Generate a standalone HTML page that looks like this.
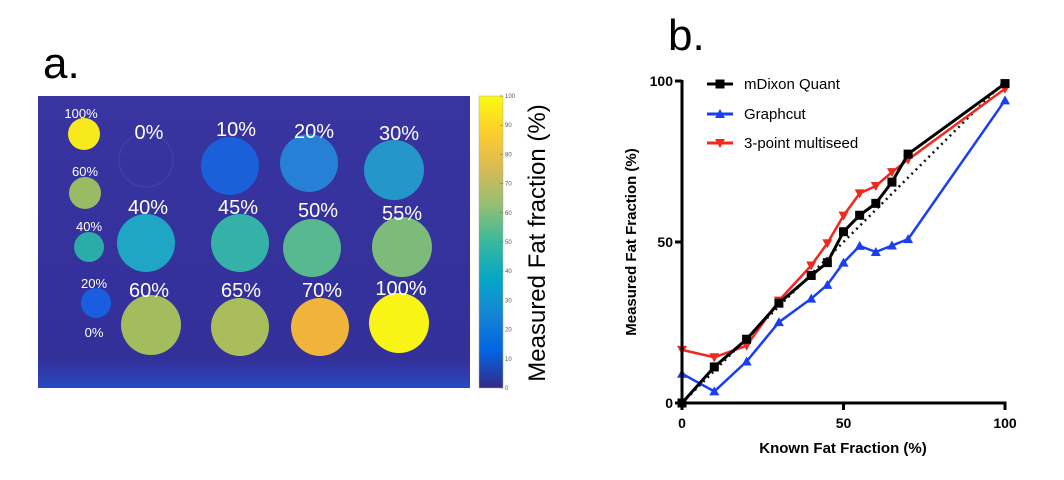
<!DOCTYPE html>
<html><head><meta charset="utf-8"><style>
html,body{margin:0;padding:0;background:#fff;}
svg{display:block;font-family:"Liberation Sans",Arial,sans-serif;}
</style></head><body>
<svg id="fig" width="1064" height="480" viewBox="0 0 1064 480">
<defs>
<linearGradient id="parula" x1="0" y1="1" x2="0" y2="0">
<stop offset="0" stop-color="#352a87"/><stop offset="0.125" stop-color="#0363e1"/><stop offset="0.25" stop-color="#1485d4"/><stop offset="0.375" stop-color="#06a7c6"/><stop offset="0.5" stop-color="#38b99e"/><stop offset="0.625" stop-color="#92bf73"/><stop offset="0.75" stop-color="#d9ba56"/><stop offset="0.875" stop-color="#fcce2e"/><stop offset="1" stop-color="#f9fb0e"/>
</linearGradient>
<linearGradient id="bgGrad" x1="0" y1="0" x2="0" y2="1">
<stop offset="0" stop-color="#3834a0"/><stop offset="0.9" stop-color="#33309a"/><stop offset="1" stop-color="#2a48c0"/>
</linearGradient>
</defs>
<text x="43" y="78" font-size="44">a.</text>
<text x="668" y="50" font-size="44">b.</text>

<g>
<rect x="38" y="96" width="432" height="292" fill="url(#bgGrad)"/>
<circle cx="146" cy="160" r="27" fill="none" stroke="#3e40a8" stroke-width="1.5"/>
<g id="circles"></g>
</g>

<g>
<rect x="479" y="96" width="24" height="292" fill="url(#parula)" stroke="#aaa" stroke-width="0.5"/>
<g id="cbticks" font-size="6" fill="#555"></g>
<text transform="translate(545,243) rotate(-90)" text-anchor="middle" font-size="24">Measured Fat fraction (%)</text>
</g>

<g id="chart"></g>
</svg>
<script>
// phantom circles
const vialLabels=["100%","60%","40%","20%","10%","20%","30%","40%","45%","50%","55%","60%","65%","70%","100%"];
const vialX=[84,85,89,96,230,309,394,146,240,312,402,151,240,320,399];
const vialY=[134,193,247,303,166,163,170,243,243,248,247,325,327,327,323];
const vialR=[16,16,15,15,29,29,30,29,29,29,30,30,29,29,30];
const vialColor=["#f6ea1c","#98bb63","#2aada8","#1a5ee0","#1a60d8","#2580d6","#2496ca","#1ea6c4","#34b2a8","#58b890","#7dbb7a","#a3bd5e","#aabd5c","#f0b43c","#f8f416"];
const lblX=[81,85,89,94,236,314,399,148,238,318,402,149,241,322,401];
const lblY=[118,176,231,288,136,138,140,214,214,217,220,297,297,297,295];
const lblSize=[13,13,13,13,20,20,20,20,20,20,20,20,20,20,20];
const NS="http://www.w3.org/2000/svg";
const cg=document.getElementById('circles');
for(let i=0;i<vialLabels.length;i++){
 const c=document.createElementNS(NS,'circle');
 c.setAttribute('cx',vialX[i]);c.setAttribute('cy',vialY[i]);c.setAttribute('r',vialR[i]);c.setAttribute('fill',vialColor[i]);
 
 
 cg.appendChild(c);
 const t=document.createElementNS(NS,'text');
 t.setAttribute('x',lblX[i]);t.setAttribute('y',lblY[i]);t.setAttribute('font-size',lblSize[i]);t.setAttribute('fill','#fff');t.setAttribute('text-anchor','middle');
 t.textContent=vialLabels[i];
 
 
 cg.appendChild(t);
}
const extraLabels=["0%","0%"];
const extraX=[149,94];
const extraY=[139,337];
const extraSize=[20,13];
for(let i=0;i<extraLabels.length;i++){
 const t=document.createElementNS(NS,'text');
 t.setAttribute('x',extraX[i]);t.setAttribute('y',extraY[i]);t.setAttribute('font-size',extraSize[i]);t.setAttribute('fill','#fff');t.setAttribute('text-anchor','middle');
 t.textContent=extraLabels[i];
 
 
 cg.appendChild(t);
}
// colorbar ticks
const cbTicks=[0,10,20,30,40,50,60,70,80,90,100];
const cbt=document.getElementById('cbticks');
cbTicks.forEach(v=>{
 const y=388-v/100*292;
 const l=document.createElementNS(NS,'line');
 l.setAttribute('x1',500);l.setAttribute('x2',503);l.setAttribute('y1',y);l.setAttribute('y2',y);l.setAttribute('stroke','#666');l.setAttribute('stroke-width','0.5');
 
 
 cbt.appendChild(l);
 const t=document.createElementNS(NS,'text');
 t.setAttribute('x',505);t.setAttribute('y',y+2);t.textContent=v;
 
 
 cbt.appendChild(t);
});

// chart data
const known=[0,10,20,30,40,45,50,55,60,65,70,100];
const mdixon=[0,11.2,19.8,31,39.6,43.6,53.2,58.3,62,68.6,77.3,99.2];
const graphcut=[9.1,3.6,12.9,25.1,32.4,36.7,43.6,48.8,46.9,48.9,50.9,94];
const multiseed=[16.5,14.2,17.8,31.8,42.7,49.6,58.2,65.1,67.4,71.7,75.6,97.6];
const tickVals=[0,50,100];
const seriesNames=["mDixon Quant","Graphcut","3-point multiseed"];

const X0=682,X1=1005,Y0=403,Y1=81;
const sx=v=>X0+(X1-X0)*v/100, sy=v=>Y0-(Y0-Y1)*v/100;
const ch=document.getElementById('chart');
function el(tag,attrs,parent){const e=document.createElementNS(NS,tag);for(const k in attrs)e.setAttribute(k,attrs[k]);(parent||ch).appendChild(e);return e;}

// identity
const idl=el('line',{x1:sx(0),y1:sy(0),x2:sx(100),y2:sy(100),stroke:'#111','stroke-width':2.5,'stroke-dasharray':'2 4'});



function marker(type,x,y,color,g){
 if(type==='sq') return el('rect',{x:x-4.5,y:y-4.5,width:9,height:9,fill:color},g);
 if(type==='up') return el('polygon',{points:`${x},${y-5} ${x-5},${y+4} ${x+5},${y+4}`,fill:color},g);
 return el('polygon',{points:`${x},${y+5} ${x-5},${y-4} ${x+5},${y-4}`,fill:color},g);
}
const sets=[[graphcut,'#1a3ff0','up','graphcut'],[multiseed,'#f0281e','down','multiseed'],[mdixon,'#000','sq','mdixon']];
sets.forEach(([vals,col,m,nm])=>{
 const g=el('g',{});
 
 
 const p=el('polyline',{points:known.map((k,i)=>sx(k)+','+sy(vals[i])).join(' '),fill:'none',stroke:col,'stroke-width':nm==='mdixon'?3:2.5,'stroke-linejoin':'round'},g);
 
 
 known.forEach((k,i)=>{const mk=marker(m,sx(k),sy(vals[i]),col,g);
  
  });
});

// axes
const ya=el('line',{x1:X0,y1:Y1-1,x2:X0,y2:Y0+1.5,stroke:'#000','stroke-width':3});


const xa=el('line',{x1:X0-1.5,y1:Y0,x2:X1+1.5,y2:Y0,stroke:'#000','stroke-width':3});


tickVals.forEach(v=>{
 const a=el('line',{x1:X0-7,x2:X0,y1:sy(v),y2:sy(v),stroke:'#000','stroke-width':3});
 
 
 const t=el('text',{x:X0-9,y:sy(v)+5,'font-size':14,'font-weight':'bold','text-anchor':'end'});t.textContent=v;
 
 
 const b=el('line',{x1:sx(v),x2:sx(v),y1:Y0,y2:Y0+7,stroke:'#000','stroke-width':3});
 
 
 const u=el('text',{x:sx(v),y:Y0+25,'font-size':14,'font-weight':'bold','text-anchor':'middle'});u.textContent=v;
 
 
});
const xt=el('text',{x:843,y:453,'font-size':15,'font-weight':'bold','text-anchor':'middle'});xt.textContent='Known Fat Fraction (%)';


const yt=el('text',{transform:'translate(636,242) rotate(-90)','font-size':15,'font-weight':'bold','text-anchor':'middle'});yt.textContent='Measured Fat Fraction (%)';



// legend
const legCols=['#000','#1a3ff0','#f0281e'];const legM=['sq','up','down'];const legY=[84,114,143];
seriesNames.forEach((n,i)=>{
 const g=el('g',{});
 
 
 el('line',{x1:707,x2:733,y1:legY[i],y2:legY[i],stroke:legCols[i],'stroke-width':3},g);
 marker(legM[i],720,legY[i],legCols[i],g);
 const t=el('text',{x:744,y:legY[i]+5,'font-size':15},g);t.textContent=n;
});
</script>
</body></html>
